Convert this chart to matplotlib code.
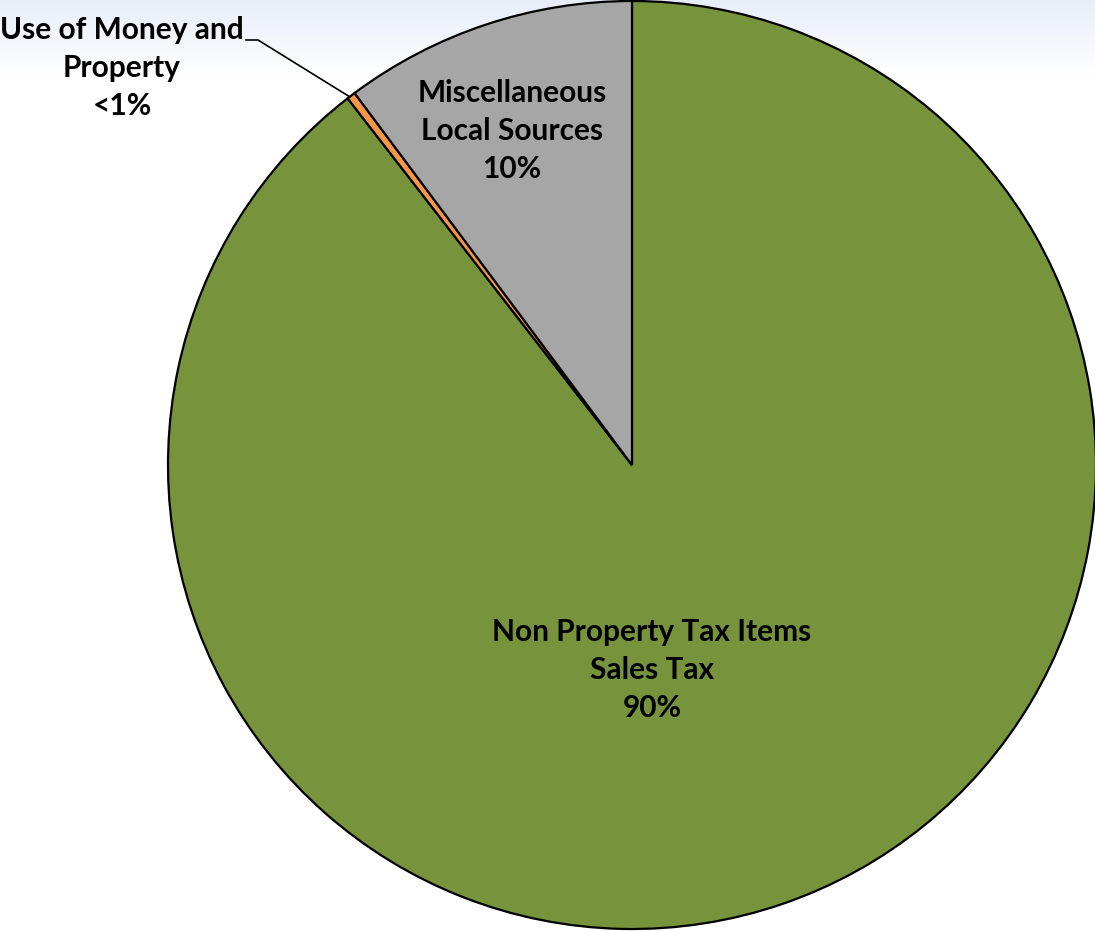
import numpy as np
import matplotlib
matplotlib.use('Agg')
from matplotlib import pyplot as plt

labels = ['Non Property Tax Items\nSales Tax\n90%',
          'Use of Money and\nProperty\n<1%',
          'Miscellaneous\nLocal Sources\n10%']
values = [89.5, 0.3, 10.2]
colors = ['#77933C', '#F79646', '#A6A6A6']

W, H = 1095, 931
fig = plt.figure(figsize=(W / 100, H / 100), dpi=100)

# light blue gradient at top of the slide background
bg = fig.add_axes([0, 0, 1, 1], zorder=0)
grad = np.ones((H, 1, 3))
rows = np.arange(H)
t = np.clip(rows / 75.0, 0, 1)[:, None]
top = np.array([232, 237, 248]) / 255.0
grad[:, 0, :] = top * (1 - t) + 1.0 * t
bg.imshow(grad, aspect='auto', extent=[0, 1, 0, 1], origin='upper')
bg.axis('off')

# pie: centre (632, 465) px, radius 464 px
cx, cy, r = 632, 465, 464
ax = fig.add_axes([(cx - r) / W, (H - cy - r) / H, 2 * r / W, 2 * r / H], zorder=1)
ax.pie(values, colors=colors, startangle=90, counterclock=False,
       wedgeprops=dict(edgecolor='black', linewidth=1.6))
ax.set_xlim(-1, 1)
ax.set_ylim(-1, 1)
ax.set_aspect('equal')
ax.axis('off')

font = dict(family=['Lato', 'DejaVu Sans'], fontweight='bold', fontsize=21.5,
            ha='center', va='center', linespacing=1.45, color='black', zorder=5)

fig.text(652 / W, 1 - 670 / H, labels[0], **font)
fig.text(122 / W, 1 - 68 / H, labels[1], **font)
fig.text(512 / W, 1 - 131 / H, labels[2], **font)

# leader line for the small slice
fig.add_artist(plt.Line2D([246 / W, 258 / W, 350 / W],
                          [1 - 40 / H, 1 - 40 / H, 1 - 97 / H],
                          color='black', linewidth=1.2, zorder=4))

fig.savefig('out.png', dpi=100)
